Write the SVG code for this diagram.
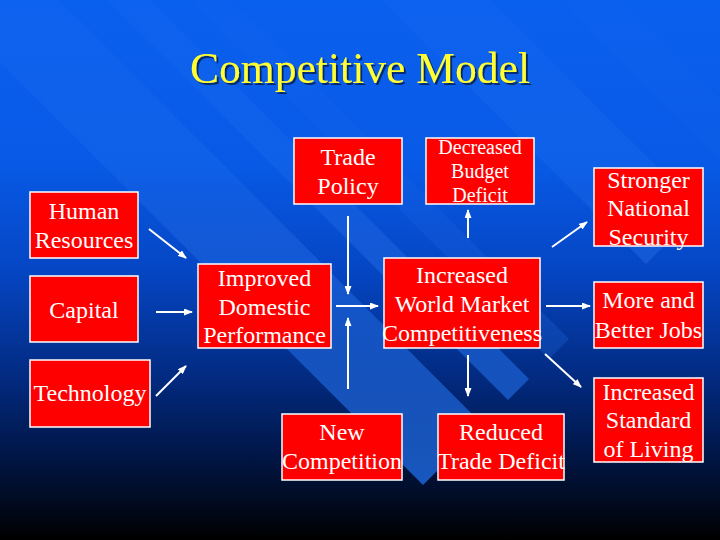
<svg xmlns="http://www.w3.org/2000/svg" width="720" height="540" viewBox="0 0 720 540">
<defs>
<linearGradient id="bg" x1="0" y1="0" x2="0" y2="1">
<stop offset="0" stop-color="#0a60ee"/>
<stop offset="0.3" stop-color="#085ae6"/>
<stop offset="0.5" stop-color="#0546c4"/>
<stop offset="0.7" stop-color="#022a80"/>
<stop offset="0.85" stop-color="#011544"/>
<stop offset="1" stop-color="#000000"/>
</linearGradient>
<linearGradient id="st" gradientUnits="userSpaceOnUse" x1="0" y1="0" x2="0" y2="540">
<stop offset="0" stop-color="#5a9aff" stop-opacity="0.03"/>
<stop offset="0.35" stop-color="#4a90ff" stop-opacity="0.12"/>
<stop offset="0.6" stop-color="#2a7cf8" stop-opacity="0.4"/>
<stop offset="0.9" stop-color="#2070f0" stop-opacity="0.75"/>
</linearGradient>
<filter id="sh" x="-10%" y="-20%" width="120%" height="150%">
<feDropShadow dx="2" dy="2" stdDeviation="0.6" flood-color="#06205a" flood-opacity="0.9"/>
</filter>
<marker id="ah" markerUnits="userSpaceOnUse" markerWidth="9" markerHeight="7" refX="8" refY="3.5" orient="auto">
<path d="M0,0 L9,3.5 L0,7 z" fill="#ffffff"/>
</marker>
<style>
.box{fill:#ff0000;stroke:#ffffff;stroke-width:1.5}
.t{font-family:"Liberation Serif","Times New Roman",serif;font-size:24px;fill:#ffffff;text-anchor:middle}
.s{font-size:20px}
.c{stroke:#ffffff;stroke-width:2;fill:none;marker-end:url(#ah)}
</style>
</defs>
<rect x="0" y="0" width="720" height="540" fill="url(#bg)"/>
<g id="stripes" fill="url(#st)">
<polygon points="-62,0 59,0 483,425 423,485"/>
<polygon points="107,0 150,0 529,379 508,400"/>
<polygon points="382,0 490,0 700,210 646,264"/>
<polygon points="190,0 230,0 569,339 549,359" opacity="0.5"/>
<polygon points="560,0 620,0 764,144 734,174" opacity="0.4"/>
</g>
<g id="title">
<text x="360" y="83" font-family="Liberation Serif, Times New Roman, serif" font-size="45" fill="#ffff33" text-anchor="middle" textLength="340" lengthAdjust="spacingAndGlyphs" filter="url(#sh)">Competitive Model</text>
</g>
<g id="connectors">
<line class="c" x1="149" y1="229" x2="186" y2="258"/>
<line class="c" x1="156" y1="312" x2="192" y2="312"/>
<line class="c" x1="156" y1="396" x2="186" y2="366"/>
<line class="c" x1="348" y1="216" x2="348" y2="294"/>
<line class="c" x1="348" y1="389" x2="348" y2="318"/>
<line class="c" x1="336" y1="306" x2="378" y2="306"/>
<line class="c" x1="468" y1="238" x2="468" y2="210"/>
<line class="c" x1="552" y1="247" x2="587" y2="222"/>
<line class="c" x1="546" y1="306" x2="590" y2="306"/>
<line class="c" x1="468" y1="355" x2="468" y2="396"/>
<line class="c" x1="545" y1="354" x2="581" y2="387"/>
</g>
<g id="human-resources">
<rect class="box" x="30" y="192" width="108" height="66"/>
<text class="t" x="84" y="219">Human</text>
<text class="t" x="84" y="248">Resources</text>
</g>
<g id="capital">
<rect class="box" x="30" y="276" width="108" height="66"/>
<text class="t" x="84" y="318">Capital</text>
</g>
<g id="technology">
<rect class="box" x="30" y="360" width="120" height="67"/>
<text class="t" x="90" y="401">Technology</text>
</g>
<g id="improved-domestic">
<rect class="box" x="198" y="264" width="133" height="84"/>
<text class="t" x="264.5" y="286">Improved</text>
<text class="t" x="264.5" y="314.5">Domestic</text>
<text class="t" x="264.5" y="343">Performance</text>
</g>
<g id="trade-policy">
<rect class="box" x="294" y="138" width="108" height="66"/>
<text class="t" x="348" y="165">Trade</text>
<text class="t" x="348" y="194">Policy</text>
</g>
<g id="budget-deficit">
<rect class="box" x="426" y="138" width="108" height="66"/>
<text class="t s" x="480" y="154">Decreased</text>
<text class="t s" x="480" y="178">Budget</text>
<text class="t s" x="480" y="201.5">Deficit</text>
</g>
<g id="world-market">
<rect class="box" x="384" y="258" width="156" height="90"/>
<text class="t" x="462" y="283">Increased</text>
<text class="t" x="462" y="311.5">World Market</text>
<text class="t" x="462" y="341">Competitiveness</text>
</g>
<g id="national-security">
<rect class="box" x="594" y="168" width="109" height="78"/>
<text class="t" x="648.5" y="188">Stronger</text>
<text class="t" x="648.5" y="216">National</text>
<text class="t" x="648.5" y="244.5">Security</text>
</g>
<g id="better-jobs">
<rect class="box" x="594" y="282" width="109" height="66"/>
<text class="t" x="648.5" y="308">More and</text>
<text class="t" x="648.5" y="337.5">Better Jobs</text>
</g>
<g id="standard-of-living">
<rect class="box" x="594" y="378" width="109" height="84"/>
<text class="t" x="648.5" y="399.5">Increased</text>
<text class="t" x="648.5" y="428">Standard</text>
<text class="t" x="648.5" y="457">of Living</text>
</g>
<g id="new-competition">
<rect class="box" x="282" y="414" width="120" height="66"/>
<text class="t" x="342" y="440">New</text>
<text class="t" x="342" y="469">Competition</text>
</g>
<g id="trade-deficit">
<rect class="box" x="438" y="414" width="126" height="66"/>
<text class="t" x="501" y="440">Reduced</text>
<text class="t" x="501" y="469">Trade Deficit</text>
</g>
</svg>
